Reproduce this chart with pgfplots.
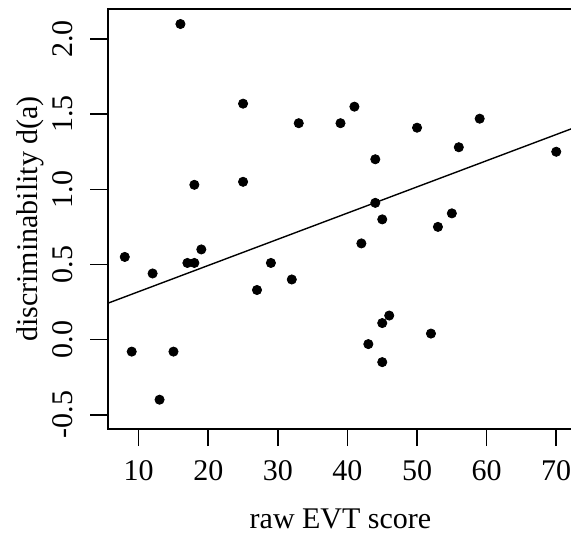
\documentclass[border=0pt]{standalone}
\usepackage{pgfplots}
\pgfplotsset{compat=1.18}
\usepackage{fontspec}
\setmainfont{Liberation Serif}
\begin{document}
\begin{tikzpicture}
\begin{axis}[
  at={(0,0)}, anchor=south west,
  scale only axis,
  width=233pt, height=210pt,
  xmin=5.52, xmax=72.48,
  ymin=-0.595, ymax=2.2,
  axis line style={line width=1pt},
  xtick={10,20,30,40,50,60,70},
  xticklabels={10,20,30,40,50,60,70},
  ytick={-0.5,0,0.5,1,1.5,2},
  yticklabels={-0.5,0.0,0.5,1.0,1.5,2.0},
  tick align=outside,
  major tick length=8.5pt,
  tick style={line width=0.8pt, black},
  xtick pos=bottom, ytick pos=left,
  font=\fontsize{15}{18}\selectfont,
  xticklabel style={anchor=base, yshift=-17pt},
  yticklabel style={xshift=-9pt, anchor=base, rotate=90},
  every axis x label/.style={at={(axis description cs:0.5,0)}, anchor=base, yshift=-49.5pt},
  every axis y label/.style={at={(axis description cs:0,0.5)}, xshift=-35pt, rotate=90, anchor=base},
  xlabel={raw EVT score},
  ylabel={discriminability d(a)},
  clip=false,
]
\addplot[only marks, mark=*, mark size=2.3pt, black] coordinates {
(16,2.10) (25,1.57) (33,1.44) (39,1.44) (18,1.03) (25,1.05)
(41,1.55) (50,1.41) (59,1.47) (56,1.28) (44,1.20) (70,1.25)
(44,0.91) (45,0.80) (55,0.84) (8,0.55) (12,0.44) (17,0.51)
(18,0.51) (19,0.60) (27,0.33) (29,0.51) (32,0.40) (9,-0.08)
(15,-0.08) (13,-0.40) (42,0.64) (53,0.75) (46,0.16) (45,0.11)
(43,-0.03) (45,-0.15) (52,0.04)
};
\addplot[black, line width=0.7pt] coordinates {(5.52,0.241) (72.48,1.408)};
\end{axis}
\pgfresetboundingbox
\useasboundingbox (-53.75pt,-52.5pt) rectangle (231.75pt,214.5pt);
\end{tikzpicture}
\end{document}
